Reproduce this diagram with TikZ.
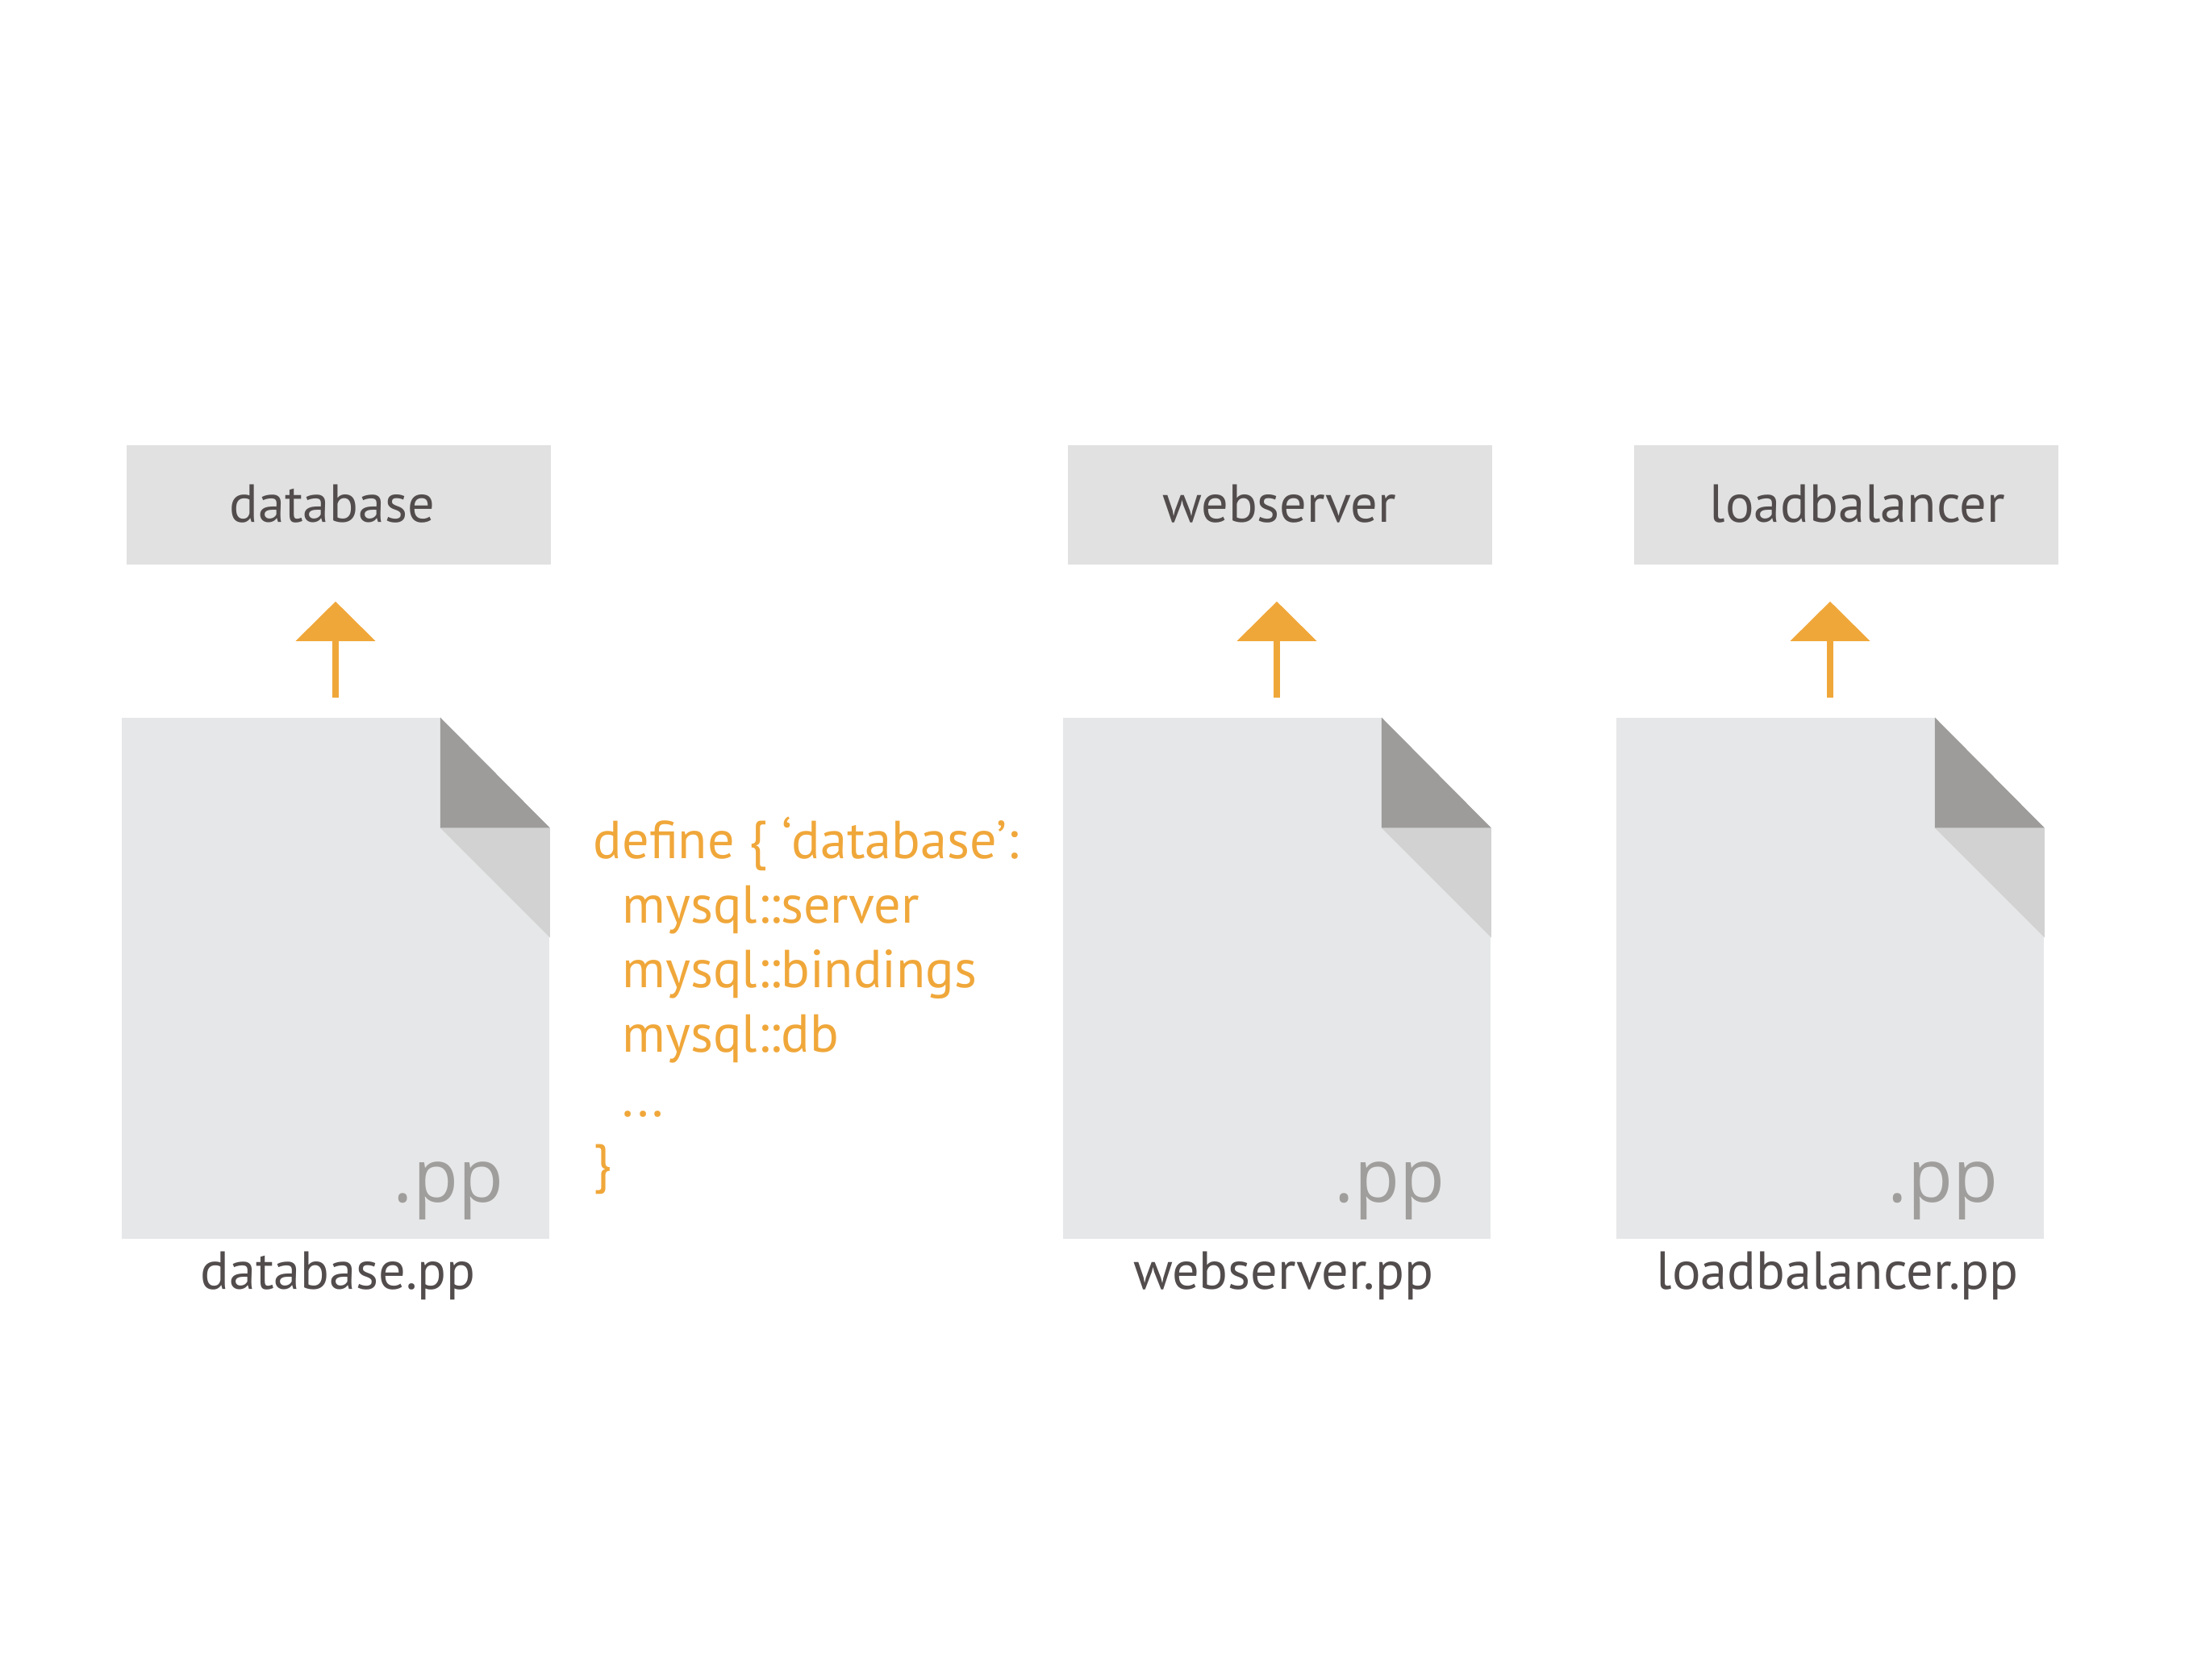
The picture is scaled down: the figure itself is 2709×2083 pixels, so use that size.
\documentclass[tikz,border=0pt]{standalone}
\usepackage{fontspec}
\setmainfont{PT Sans}
\newfontfamily\ppfont{Open Sans}
\usetikzlibrary{arrows.meta, positioning}
\definecolor{boxgray}{HTML}{E0E1E0}
\definecolor{docgray}{HTML}{E6E7E8}
\definecolor{folddark}{HTML}{9D9C9A}
\definecolor{foldlight}{HTML}{D2D2D2}
\definecolor{codeorange}{HTML}{F0A73A}
\definecolor{textgray}{HTML}{524C4D}
\definecolor{ppgray}{HTML}{A09E9C}
\tikzset{
  modbox/.style={fill=boxgray, minimum width=5.25cm, minimum height=1.47cm, inner sep=0pt},
  modtext/.style={text=textgray, font=\fontsize{18.9}{22}\selectfont, anchor=base},
  doc/.style={fill=docgray, minimum width=5.30cm, minimum height=6.45cm, inner sep=0pt},
  pptext/.style={text=ppgray, font=\fontsize{26}{30}\ppfont, anchor=base east, inner sep=0pt},
  fname/.style={text=textgray, font=\fontsize{18.9}{22}\selectfont, anchor=base},
  uparrow/.style={draw=codeorange, line width=0.085cm, shorten <=0.25cm, shorten >=0.455cm,
    -{Triangle[width=0.97cm, length=0.49cm]}},
  code/.style={text=codeorange, font=\fontsize{18.85}{22.8}\selectfont, align=left, anchor=north west, inner sep=0pt}
}
\begin{document}
\begin{tikzpicture}[x=0.01cm,y=-0.01cm]
  \useasboundingbox (0,0) rectangle (2709,2083);
  % modules
  \node[modbox] (b1) at (420,626) {};
  \node[modbox] (b2) at (1587,626) {};
  \node[modbox] (b3) at (2289,626) {};
  \node[modtext] (t1) at (412,648) {database};
  \node[modtext] (t2) at (1586,648) {webserver};
  \node[modtext] (t3) at (2303,648) {loadbalancer};
  % manifests
  \node[doc] (d1) at (416,1213) {};
  \node[doc] (d2) at (1583,1213) {};
  \node[doc] (d3) at (2269,1213) {};
  \fill[white] ([shift={(-136,0)}]d1.north east) -- (d1.north east) -- ([shift={(0,137)}]d1.north east) -- cycle;
  \fill[white] ([shift={(-136,0)}]d2.north east) -- (d2.north east) -- ([shift={(0,137)}]d2.north east) -- cycle;
  \fill[white] ([shift={(-136,0)}]d3.north east) -- (d3.north east) -- ([shift={(0,137)}]d3.north east) -- cycle;
  \fill[folddark] ([shift={(-136,0)}]d1.north east) -- ([shift={(0,137)}]d1.north east) -- ([shift={(-136,137)}]d1.north east) -- cycle;
  \fill[folddark] ([shift={(-136,0)}]d2.north east) -- ([shift={(0,137)}]d2.north east) -- ([shift={(-136,137)}]d2.north east) -- cycle;
  \fill[folddark] ([shift={(-136,0)}]d3.north east) -- ([shift={(0,137)}]d3.north east) -- ([shift={(-136,137)}]d3.north east) -- cycle;
  \fill[foldlight] ([shift={(-136,137)}]d1.north east) -- ([shift={(0,137)}]d1.north east) -- ([shift={(0,273)}]d1.north east) -- cycle;
  \fill[foldlight] ([shift={(-136,137)}]d2.north east) -- ([shift={(0,137)}]d2.north east) -- ([shift={(0,273)}]d2.north east) -- cycle;
  \fill[foldlight] ([shift={(-136,137)}]d3.north east) -- ([shift={(0,137)}]d3.north east) -- ([shift={(0,273)}]d3.north east) -- cycle;
  \node[pptext] (p1) at ([shift={(-57,-46)}]d1.south east) {.pp};
  \node[pptext] (p2) at ([shift={(-57,-46)}]d2.south east) {.pp};
  \node[pptext] (p3) at ([shift={(-57,-46)}]d3.south east) {.pp};
  \node[fname] (f1) at (419,1598) {database.pp};
  \node[fname] (f2) at (1591,1598) {webserver.pp};
  \node[fname] (f3) at (2278,1598) {loadbalancer.pp};
  % arrows
  \draw[uparrow] (d1.north) -- (d1.north |- b1.south);
  \draw[uparrow] (d2.north) -- (d2.north |- b2.south);
  \draw[uparrow] (d3.north) -- (d3.north |- b3.south);
  % code
  \node[code] (c1) at (735,1012) {define \{ ‘database’:\\
    \hspace*{0.36cm}mysql::server\\
    \hspace*{0.36cm}mysql::bindings\\
    \hspace*{0.36cm}mysql::db\\
    \hspace*{0.36cm}...\\
    \}};
\end{tikzpicture}
\end{document}
